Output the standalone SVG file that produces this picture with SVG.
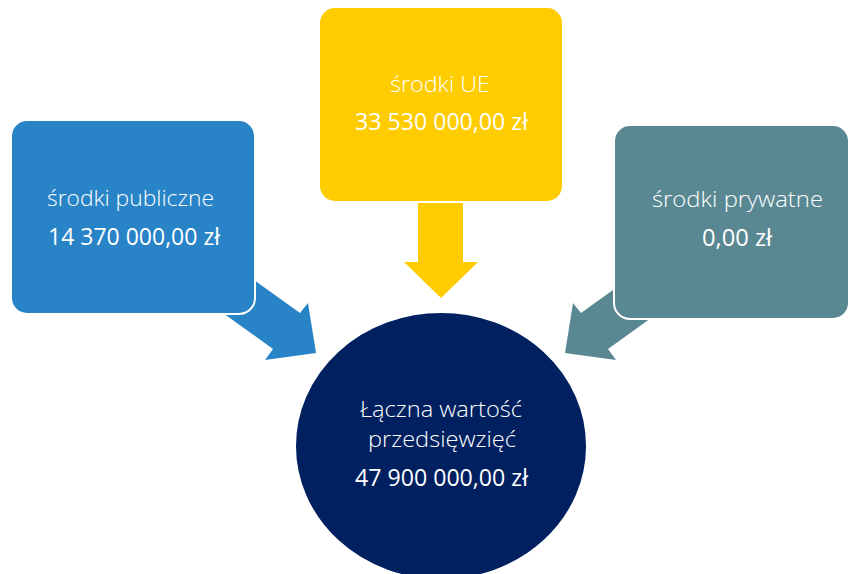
<svg xmlns="http://www.w3.org/2000/svg" width="850" height="574" viewBox="0 0 850 574">
<style>
.box{stroke:#ffffff;stroke-width:2}
.lbl{font-family:"Open Sans","Lato","Liberation Sans",sans-serif;font-weight:300;font-size:22px;fill:#ffffff;text-anchor:middle}
.num{font-family:"Open Sans","Lato","Liberation Sans",sans-serif;font-weight:500;font-size:24.5px;fill:#ffffff;text-anchor:middle}
</style>
<rect width="850" height="574" fill="#ffffff"/>
<g id="connectors">
<polygon id="arrow-publiczne" fill="#2983C7" points="316,353 308,303 300,313 243,272 216,308 273,349 265,360"/>
<polygon id="arrow-ue" fill="#FFCC00" points="418,203 463,203 463,262 478,262 441,298 404,262 418,262"/>
<polygon id="arrow-prywatne" fill="#5A8892" points="565,353 573,303 581,313 638,272 665,308 608,349 616,360"/>
</g>
<g id="node-publiczne">
<rect class="box" x="11" y="120" width="244" height="194" rx="16" fill="#2983C7"/>
<text class="lbl" x="130.5" y="206" textLength="167" lengthAdjust="spacingAndGlyphs">środki publiczne</text>
<text class="num" x="134" y="245" textLength="172" lengthAdjust="spacingAndGlyphs">14 370 000,00 zł</text>
</g>
<g id="node-ue">
<rect class="box" x="319" y="7" width="244" height="195" rx="16" fill="#FFCC00"/>
<text class="lbl" x="440" y="92" textLength="100" lengthAdjust="spacingAndGlyphs">środki UE</text>
<text class="num" x="441.5" y="130" textLength="173" lengthAdjust="spacingAndGlyphs">33 530 000,00 zł</text>
</g>
<g id="node-prywatne">
<rect class="box" x="614" y="125" width="235" height="194" rx="16" fill="#5A8892"/>
<text class="lbl" x="737.5" y="207" textLength="171" lengthAdjust="spacingAndGlyphs">środki prywatne</text>
<text class="num" x="737" y="246" textLength="70" lengthAdjust="spacingAndGlyphs">0,00 zł</text>
</g>
<g id="node-laczna">
<ellipse class="box" cx="441" cy="446" rx="146" ry="134" fill="#002060"/>
<text class="lbl" x="441" y="417" textLength="162" lengthAdjust="spacingAndGlyphs">Łączna wartość</text>
<text class="lbl" x="442" y="447" textLength="148" lengthAdjust="spacingAndGlyphs">przedsięwzięć</text>
<text class="num" x="441.5" y="486" textLength="173" lengthAdjust="spacingAndGlyphs">47 900 000,00 zł</text>
</g>
</svg>
